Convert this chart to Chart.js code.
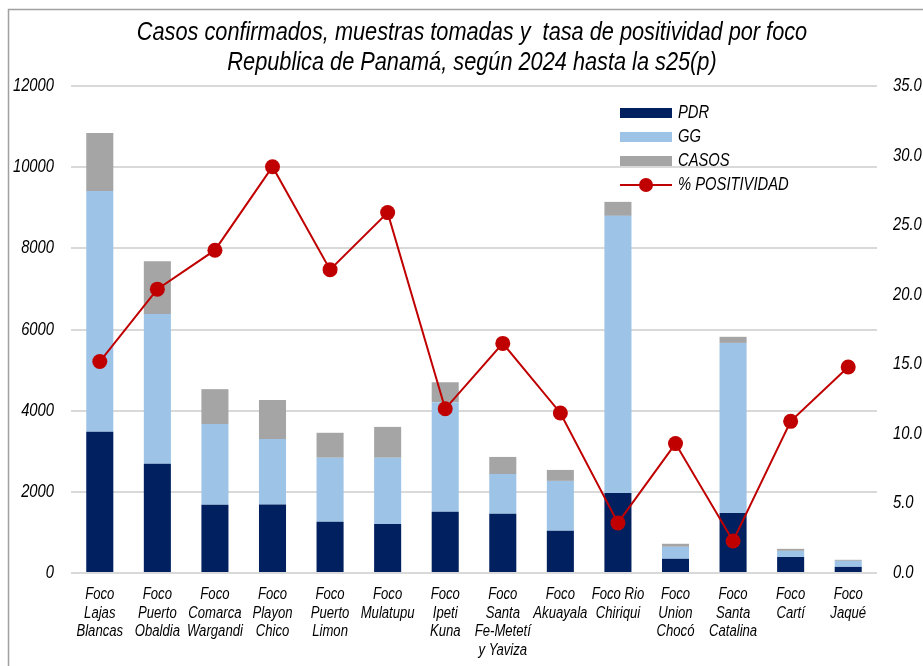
<!DOCTYPE html>
<html lang="es">
<head>
<meta charset="UTF-8">
<title>Casos confirmados por foco</title>
<script src="https://cdn.jsdelivr.net/npm/chart.js@4.4.1/dist/chart.umd.min.js"></script>
<style>
  html, body { margin: 0; padding: 0; background: #fff; }
  #grafico { display: block; }
</style>
</head>
<body>
<canvas id="grafico" width="923" height="666"></canvas>
<script>
// Datos del gráfico
const titulo = [
    'Casos confirmados, muestras tomadas y  tasa de positividad por foco',
    'Republica de Panamá, según 2024 hasta la s25(p)'
];
const focos = [
    ['Foco', 'Lajas', 'Blancas'],
    ['Foco', 'Puerto', 'Obaldia'],
    ['Foco', 'Comarca', 'Wargandi'],
    ['Foco', 'Playon', 'Chico'],
    ['Foco', 'Puerto', 'Limon'],
    ['Foco', 'Mulatupu'],
    ['Foco', 'Ipeti', 'Kuna'],
    ['Foco', 'Santa', 'Fe-Metetí', 'y Yaviza'],
    ['Foco', 'Akuayala'],
    ['Foco Rio', 'Chiriqui'],
    ['Foco', 'Union', 'Chocó'],
    ['Foco', 'Santa', 'Catalina'],
    ['Foco', 'Cartí'],
    ['Foco', 'Jaqué']
];
const pdr = [3480, 2690, 1680, 1690, 1260, 1210, 1510, 1460, 1040, 1970, 350, 1480, 395, 150];
const gg = [5930, 3690, 1990, 1610, 1580, 1630, 2700, 980, 1230, 6830, 295, 4190, 150, 150];
const casos = [1430, 1300, 860, 960, 615, 760, 490, 420, 270, 345, 75, 150, 50, 25];
const positividad = [15.2, 20.4, 23.2, 29.2, 21.8, 25.9, 11.8, 16.5, 11.5, 3.6, 9.3, 2.3, 10.9, 14.8];
const marcasCasos = [0, 2000, 4000, 6000, 8000, 10000, 12000];
const marcasPositividad = [0, 5, 10, 15, 20, 25, 30, 35];

// No hay Arial Narrow: se comprime la Liberation Sans en horizontal
const fuente = '"Liberation Sans", Arial, sans-serif';
const estrecho = 0.82;

function textoEstrecho(ctx, texto, x, y, align) {
    ctx.save();
    ctx.translate(x, y);
    ctx.scale(estrecho, 1);
    ctx.textAlign = align;
    ctx.fillText(texto, 0, 0);
    ctx.restore();
}

// Plugin para el marco, el título, los rótulos de los ejes y la leyenda
const decoracion = {
    id: 'decoracion',
    beforeDraw(chart) {
        const ctx = chart.ctx;
        ctx.save();
        ctx.fillStyle = '#fff';
        ctx.fillRect(0, 0, chart.width, chart.height);
        ctx.strokeStyle = '#A0A0A0';
        ctx.lineWidth = 1.5;
        ctx.strokeRect(8.5, 9.5, chart.width + 20, chart.height + 20);
        ctx.restore();
    },
    afterDraw(chart) {
        const ctx = chart.ctx;
        const area = chart.chartArea;
        ctx.save();
        ctx.fillStyle = '#000';
        ctx.textBaseline = 'middle';

        // título
        ctx.font = 'italic 26.5px ' + fuente;
        const cx = (area.left + area.right) / 2 - 2;
        titulo.forEach((linea, i) => textoEstrecho(ctx, linea, cx, 33 + i * 30, 'center'));

        // rótulos de los ejes
        ctx.font = 'italic 18px ' + fuente;
        const ejeY = chart.scales.y;
        ejeY.ticks.forEach(t => {
            textoEstrecho(ctx, String(t.value), area.left - 17, ejeY.getPixelForValue(t.value), 'right');
        });
        const ejeY2 = chart.scales.y2;
        ejeY2.ticks.forEach(t => {
            textoEstrecho(ctx, t.value.toFixed(1), area.right + 16, ejeY2.getPixelForValue(t.value), 'left');
        });
        ctx.font = 'italic 16px ' + fuente;
        const ejeX = chart.scales.x;
        focos.forEach((lineas, i) => {
            const x = ejeX.getPixelForValue(i);
            lineas.forEach((linea, j) => textoEstrecho(ctx, linea, x, area.bottom + 22 + j * 18.5, 'center'));
        });

        // leyenda
        ctx.font = 'italic 18px ' + fuente;
        chart.data.datasets.forEach((ds, i) => {
            const y = 113 + i * 24;
            if (ds.type === 'line') {
                ctx.strokeStyle = ds.borderColor;
                ctx.lineWidth = 2;
                ctx.beginPath();
                ctx.moveTo(620, y);
                ctx.lineTo(672, y);
                ctx.stroke();
                ctx.fillStyle = ds.backgroundColor;
                ctx.beginPath();
                ctx.arc(646, y, 7, 0, Math.PI * 2);
                ctx.fill();
            } else {
                ctx.fillStyle = ds.backgroundColor;
                ctx.fillRect(620, y - 5, 52, 10);
            }
            ctx.fillStyle = '#000';
            textoEstrecho(ctx, ds.label, 678, y, 'left');
        });
        ctx.restore();
    }
};

new Chart(document.getElementById('grafico'), {
    type: 'bar',
    data: {
        labels: focos,
        datasets: [
            { label: 'PDR', data: pdr, backgroundColor: '#002060', yAxisID: 'y', order: 2 },
            { label: 'GG', data: gg, backgroundColor: '#9DC3E6', yAxisID: 'y', order: 2 },
            { label: 'CASOS', data: casos, backgroundColor: '#A5A5A5', yAxisID: 'y', order: 2 },
            {
                type: 'line',
                label: '% POSITIVIDAD',
                data: positividad,
                yAxisID: 'y2',
                borderColor: '#C00000',
                backgroundColor: '#C00000',
                borderWidth: 2,
                pointRadius: 7.5,
                pointHoverRadius: 7.5,
                pointBorderWidth: 0,
                tension: 0,
                order: 1
            }
        ]
    },
    options: {
        responsive: false,
        animation: false,
        layout: { padding: { top: 86, left: 0, right: 0, bottom: 0 } },
        datasets: { bar: { barPercentage: 0.47, categoryPercentage: 1 } },
        plugins: {
            legend: { display: false },
            title: { display: false },
            tooltip: { enabled: false }
        },
        scales: {
            x: {
                stacked: true,
                grid: { display: false },
                border: { display: false },
                ticks: { display: false },
                afterFit: s => { s.height = 93; }
            },
            y: {
                stacked: true,
                min: marcasCasos[0],
                max: marcasCasos[marcasCasos.length - 1],
                ticks: { display: false, stepSize: marcasCasos[1] - marcasCasos[0] },
                grid: { color: '#D9D9D9', lineWidth: 2, drawTicks: false },
                border: { display: false },
                afterFit: s => { s.width = 71; }
            },
            y2: {
                position: 'right',
                min: marcasPositividad[0],
                max: marcasPositividad[marcasPositividad.length - 1],
                ticks: { display: false, stepSize: marcasPositividad[1] - marcasPositividad[0] },
                grid: { display: false, drawTicks: false },
                border: { display: false },
                afterFit: s => { s.width = 46; }
            }
        }
    },
    plugins: [decoracion]
});
</script>
</body>
</html>
